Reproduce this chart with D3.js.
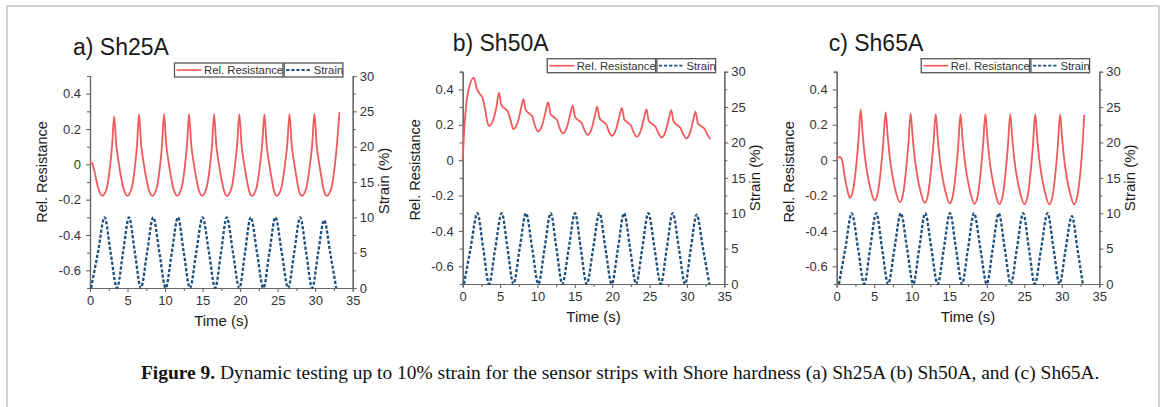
<!DOCTYPE html>
<html>
<head>
<meta charset="utf-8">
<script src="https://cdn.jsdelivr.net/npm/d3@7"></script>
<style>
  body { margin: 0; background: #fff; }
  svg { display: block; font-family: "Liberation Sans", Arial, sans-serif; }
</style>
</head>
<body>
<script>
// Relative resistance, [time (s), value]
const aRes = [[0,0.012],[0.25,0.008],[0.6,-0.04],[1.0,-0.12],[1.64,-0.178],
  [2.2,-0.14],[2.65,-0.02],[2.95,0.11],[3.22,0.272],[3.5,0.11],[3.86,0.0],[4.17,-0.08],[4.6,-0.155],[4.97,-0.178],
  [5.52,-0.14],[5.97,-0.02],[6.27,0.11],[6.53,0.283],[6.82,0.11],[7.18,0.0],[7.5,-0.08],[7.92,-0.155],[8.3,-0.178],
  [8.85,-0.14],[9.3,-0.02],[9.6,0.11],[9.87,0.284],[10.16,0.11],[10.52,0],[10.83,-0.08],[11.25,-0.155],[11.6,-0.178],
  [12.16,-0.14],[12.62,-0.02],[12.93,0.11],[13.2,0.284],[13.49,0.11],[13.85,0],[14.16,-0.08],[14.58,-0.155],[14.93,-0.178],
  [15.49,-0.14],[15.95,-0.02],[16.26,0.11],[16.53,0.284],[16.82,0.11],[17.18,0],[17.5,-0.08],[17.9,-0.155],[18.25,-0.178],
  [18.82,-0.14],[19.28,-0.02],[19.6,0.11],[19.9,0.283],[20.19,0.11],[20.55,0],[20.86,-0.08],[21.23,-0.155],[21.58,-0.178],
  [22.14,-0.14],[22.6,-0.02],[22.94,0.11],[23.24,0.283],[23.53,0.11],[23.89,0],[24.2,-0.08],[24.55,-0.155],[24.9,-0.178],
  [25.46,-0.14],[25.92,-0.02],[26.28,0.11],[26.58,0.284],[26.87,0.11],[27.23,0],[27.54,-0.08],[27.88,-0.155],[28.23,-0.178],
  [28.79,-0.14],[29.25,-0.02],[29.6,0.11],[29.9,0.286],[30.19,0.11],[30.55,0],[30.86,-0.08],[31.2,-0.155],[31.56,-0.178],
  [32.12,-0.14],[32.58,-0.02],[32.92,0.12],[33.24,0.295]];

const bRes = [[0,0.0],[0.15,0.13],[0.44,0.30],[0.89,0.415],[1.51,0.466],
  [1.87,0.406],[2.22,0.378],[2.67,0.35],[2.98,0.293],[3.29,0.218],[3.54,0.193],
  [4.08,0.227],[4.52,0.302],[4.85,0.381],[5.16,0.312],[5.61,0.293],[6.05,0.274],[6.4,0.227],[6.78,0.176],
  [7.32,0.21],[7.77,0.285],[8.12,0.345],[8.43,0.284],[8.88,0.265],[9.32,0.246],[9.7,0.19],[10.08,0.162],
  [10.62,0.196],[11.07,0.27],[11.44,0.328],[11.75,0.262],[12.2,0.243],[12.64,0.226],[13.0,0.178],[13.4,0.151],
  [13.94,0.185],[14.38,0.258],[14.72,0.31],[15.03,0.245],[15.48,0.226],[15.92,0.21],[16.3,0.168],[16.7,0.143],
  [17.24,0.177],[17.68,0.25],[18.0,0.302],[18.31,0.238],[18.76,0.218],[19.2,0.202],[19.57,0.162],[19.95,0.138],
  [20.5,0.172],[20.95,0.245],[21.3,0.296],[21.61,0.232],[22.06,0.212],[22.5,0.196],[22.9,0.156],[23.28,0.132],
  [23.82,0.166],[24.26,0.238],[24.58,0.287],[24.89,0.224],[25.34,0.205],[25.78,0.19],[26.2,0.152],[26.6,0.128],
  [27.14,0.162],[27.58,0.234],[27.9,0.283],[28.21,0.22],[28.66,0.2],[29.1,0.184],[29.5,0.148],[29.9,0.123],
  [30.44,0.157],[30.85,0.228],[31.15,0.274],[31.46,0.21],[31.91,0.192],[32.35,0.178],[32.8,0.14],[33.15,0.118]];

const cRes = [[0,0.006],[0.44,0.018],[0.75,-0.005],[1.06,-0.09],[1.42,-0.168],[1.75,-0.213],
  [2.19,-0.168],[2.63,-0.018],[2.9,0.112],[3.19,0.286],[3.45,0.152],[3.76,0.019],[4.08,-0.074],[4.52,-0.166],[5.05,-0.228],
  [5.49,-0.183],[5.93,-0.033],[6.2,0.096],[6.53,0.271],[6.79,0.139],[7.1,0.007],[7.42,-0.085],[7.86,-0.176],[8.4,-0.237],
  [8.84,-0.192],[9.28,-0.042],[9.55,0.089],[9.86,0.264],[10.12,0.133],[10.43,0.001],[10.75,-0.09],[11.19,-0.18],[11.72,-0.241],
  [12.16,-0.196],[12.6,-0.046],[12.88,0.085],[13.2,0.26],[13.46,0.129],[13.77,-0.003],[14.09,-0.094],[14.53,-0.184],[15.05,-0.245],
  [15.49,-0.2],[15.93,-0.048],[16.2,0.083],[16.5,0.26],[16.76,0.128],[17.07,-0.004],[17.39,-0.095],[17.83,-0.185],[18.35,-0.247],
  [18.79,-0.202],[19.23,-0.05],[19.5,0.082],[19.82,0.26],[20.08,0.128],[20.39,-0.005],[20.71,-0.096],[21.15,-0.186],[21.67,-0.249],
  [22.11,-0.204],[22.55,-0.052],[22.82,0.081],[23.13,0.26],[23.39,0.128],[23.7,-0.005],[24.02,-0.096],[24.46,-0.186],[25.0,-0.249],
  [25.44,-0.204],[25.88,-0.052],[26.15,0.081],[26.46,0.26],[26.72,0.128],[27.03,-0.005],[27.35,-0.097],[27.79,-0.187],[28.32,-0.25],
  [28.76,-0.205],[29.2,-0.053],[29.47,0.08],[29.78,0.258],[30.04,0.126],[30.35,-0.006],[30.67,-0.098],[31.11,-0.188],[31.63,-0.25],
  [32.07,-0.205],[32.51,-0.053],[32.76,0.08],[33.0,0.256]];

// Strain (%), [time (s), value]
const aStrain = [[0.15,0],[1.07,5.1],[1.95,10],[2.75,5],[3.6,0],[4.4,5],[5.2,10],[5.98,5],[6.78,0],[7.6,5],[8.42,10],[9.25,5],
  [10.08,0],[10.9,5],[11.72,10],[12.5,5],[13.32,0],[14.15,5],[15.0,10],[15.85,5],[16.68,0],[17.45,5],[18.22,10],[19.05,5],
  [19.9,0],[20.65,5],[21.42,10],[22.25,5],[23.1,0],[23.9,5],[24.7,10],[25.55,5],[26.4,0],[27.2,5],[28.0,10],[28.8,5],
  [29.6,0],[30.4,5],[31.2,9.6],[32.0,5],[32.8,0]];
const bStrain = [[0.17,0],[1.05,5],[1.96,10],[2.75,5],[3.52,0],[4.35,5],[5.22,10],[6.0,5],[6.78,0],[7.62,5],[8.47,10],[9.3,5],
  [10.12,0],[10.95,5],[11.77,10],[12.55,5],[13.33,0],[14.18,5],[15.03,10],[15.8,5],[16.59,0],[17.45,5],[18.29,10],[19.1,5],
  [19.94,0],[20.77,5],[21.59,10],[22.4,5],[23.2,0],[24.02,5],[24.84,10],[25.67,5],[26.5,0],[27.3,5],[28.1,10],[28.93,5],
  [29.75,0],[30.52,5],[31.3,9.8],[32.15,5],[33.0,0]];
const cStrain = [[0.3,0],[1.15,5],[2.0,10],[2.85,5],[3.66,0],[4.45,5],[5.27,10],[6.05,5],[6.86,0],[7.7,5],[8.55,10],[9.38,5],
  [10.2,0],[11.0,5],[11.8,10],[12.62,5],[13.45,0],[14.28,5],[15.1,10],[15.9,5],[16.7,0],[17.5,5],[18.3,10],[19.15,5],
  [20.0,0],[20.8,5],[21.6,10],[22.4,5],[23.2,0],[24.02,5],[24.85,10],[25.62,5],[26.4,0],[27.25,5],[28.1,10],[28.9,5],
  [29.7,0],[30.52,5],[31.35,9.6],[32.08,5],[32.8,0]];

// Axis ticks
const xTicks = [0, 5, 10, 15, 20, 25, 30, 35];
const xMinor = [2.5, 7.5, 12.5, 17.5, 22.5, 27.5, 32.5];
const resTicks = [-0.6, -0.4, -0.2, 0, 0.2, 0.4];
const resMinor = [-0.5, -0.3, -0.1, 0.1, 0.3, 0.5];
const strainTicks = [0, 5, 10, 15, 20, 25, 30];
const strainMinor = [2.5, 7.5, 12.5, 17.5, 22.5, 27.5];

const titles = ["a) Sh25A", "b) Sh50A", "c) Sh65A"];
const seriesNames = ["Rel. Resistance", "Strain"];
const caption = ["Figure 9.", " Dynamic testing up to 10% strain for the sensor strips with Shore hardness (a) Sh25A (b) Sh50A, and (c) Sh65A."];

const width = 1167;
const height = 407;
const resColor = "#f05a5a";
const strainColor = "#1d4f7d";
const axisColor = "#666";

const panels = [
  { title: titles[0], res: aRes, strain: aStrain, x0: 90, x1: 352.7, y0: 76, y1: 288, tdx: -17, ldy: -10, rdy: -1 },
  { title: titles[1], res: bRes, strain: bStrain, x0: 462.7, x1: 724.3, y0: 71.7, y1: 284, tdx: -10, ldy: -8, rdy: 0 },
  { title: titles[2], res: cRes, strain: cStrain, x0: 836.7, x1: 1099.3, y0: 71.7, y1: 284, tdx: -8, ldy: -6, rdy: 0 }
];

const svg = d3.select("body").append("svg")
  .attr("width", width)
  .attr("height", height)
  .attr("viewBox", [0, 0, width, height]);

// Light frame round the figure (top, left, right)
svg.append("path")
  .attr("d", "M7,407V6H1159V407")
  .attr("fill", "none")
  .attr("stroke", "#c4c4c4")
  .attr("stroke-width", 1.5);

function styleAxis(g) {
  g.select(".domain").attr("stroke", axisColor).attr("stroke-width", 1.2);
  g.selectAll(".tick line").attr("stroke", axisColor).attr("stroke-width", 1.1);
  g.selectAll(".tick text")
    .attr("fill", "#333")
    .attr("font-size", 13)
    .attr("font-family", "Liberation Sans, Arial, sans-serif");
}

panels.forEach(p => {
  const x = d3.scaleLinear().domain([0, 35]).range([p.x0, p.x1]);
  const yL = d3.scaleLinear().domain([-0.7, 0.5]).range([p.y1, p.y0]);
  const yR = d3.scaleLinear().domain([0, 30]).range([p.y1, p.y0]);
  const g = svg.append("g");

  // Minor ticks first
  g.append("g")
    .attr("transform", `translate(0,${p.y1})`)
    .call(d3.axisBottom(x).tickValues(xMinor).tickSize(3).tickFormat(""))
    .call(styleAxis);
  g.append("g")
    .attr("transform", `translate(${p.x0},0)`)
    .call(d3.axisLeft(yL).tickValues(resMinor).tickSize(3).tickFormat(""))
    .call(styleAxis);
  g.append("g")
    .attr("transform", `translate(${p.x1},0)`)
    .call(d3.axisRight(yR).tickValues(strainMinor).tickSize(3).tickFormat(""))
    .call(styleAxis);

  // Major ticks with labels
  g.append("g")
    .attr("transform", `translate(0,${p.y1})`)
    .call(d3.axisBottom(x).tickValues(xTicks).tickSize(4).tickSizeOuter(0).tickPadding(4).tickFormat(d => String(d)))
    .call(styleAxis);
  g.append("g")
    .attr("transform", `translate(${p.x0},0)`)
    .call(d3.axisLeft(yL).tickValues(resTicks).tickSize(4).tickSizeOuter(0).tickPadding(5).tickFormat(d => String(d)))
    .call(styleAxis);
  g.append("g")
    .attr("transform", `translate(${p.x1},0)`)
    .call(d3.axisRight(yR).tickValues(strainTicks).tickSize(4).tickSizeOuter(0).tickPadding(3).tickFormat(d => String(d)))
    .call(styleAxis);

  // Series
  const resLine = d3.line().x(d => x(d[0])).y(d => yL(d[1])).curve(d3.curveMonotoneX);
  const strainLine = d3.line().x(d => x(d[0])).y(d => yR(d[1])).curve(d3.curveMonotoneX);

  g.append("path")
    .attr("d", strainLine(p.strain))
    .attr("fill", "none")
    .attr("stroke", strainColor)
    .attr("stroke-width", 2.3)
    .attr("stroke-dasharray", "3.2,1.9");

  g.append("path")
    .attr("d", resLine(p.res))
    .attr("fill", "none")
    .attr("stroke", resColor)
    .attr("stroke-width", 1.8);

  // Title
  g.append("text")
    .attr("x", p.x0 + p.tdx)
    .attr("y", p.y0 - 21)
    .attr("font-size", 23)
    .attr("fill", "#1a1a1a")
    .text(p.title);

  // Axis labels
  g.append("text")
    .attr("transform", `translate(${p.x0 - 43},${(p.y0 + p.y1) / 2 + p.ldy}) rotate(-90)`)
    .attr("text-anchor", "middle")
    .attr("font-size", 14.5)
    .attr("fill", "#1a1a1a")
    .text("Rel. Resistance");
  g.append("text")
    .attr("transform", `translate(${p.x1 + 36},${(p.y0 + p.y1) / 2 + p.rdy}) rotate(-90)`)
    .attr("text-anchor", "middle")
    .attr("font-size", 15)
    .attr("fill", "#1a1a1a")
    .text("Strain (%)");
  g.append("text")
    .attr("x", (p.x0 + p.x1) / 2)
    .attr("y", p.y1 + 38)
    .attr("text-anchor", "middle")
    .attr("font-size", 15)
    .attr("fill", "#1a1a1a")
    .text("Time (s)");

  // Legend: two framed entries above the plot
  const lx = p.x0 + 84.5;
  const ly = p.y0 - 13;
  const boxes = [
    { x: lx, w: 108.4, name: seriesNames[0], color: resColor, dash: null, sw: 1.6 },
    { x: lx + 109.7, w: 58.7, name: seriesNames[1], color: strainColor, dash: "3.2,1.9", sw: 1.8 }
  ];
  boxes.forEach(b => {
    g.append("rect")
      .attr("x", b.x).attr("y", ly)
      .attr("width", b.w).attr("height", 14)
      .attr("fill", "#fff")
      .attr("stroke", "#555")
      .attr("stroke-width", 1.3);
    g.append("line")
      .attr("x1", b.x + 2).attr("x2", b.x + 27)
      .attr("y1", ly + 7).attr("y2", ly + 7)
      .attr("stroke", b.color)
      .attr("stroke-width", b.sw)
      .attr("stroke-dasharray", b.dash);
    g.append("text")
      .attr("x", b.x + 29.5)
      .attr("y", ly + 11)
      .attr("font-size", 11.3)
      .attr("fill", "#333")
      .text(b.name);
  });
});

// Caption
const cap = svg.append("text")
  .attr("x", 141)
  .attr("y", 379)
  .attr("font-family", "Liberation Serif, Times New Roman, serif")
  .attr("font-size", 17)
  .attr("fill", "#111");
cap.append("tspan").attr("font-weight", "bold").text(caption[0]);
cap.append("tspan").text(caption[1]);
const capW = cap.node().getComputedTextLength();
cap.attr("font-size", 17 * 959 / capW);
</script>
</body>
</html>
